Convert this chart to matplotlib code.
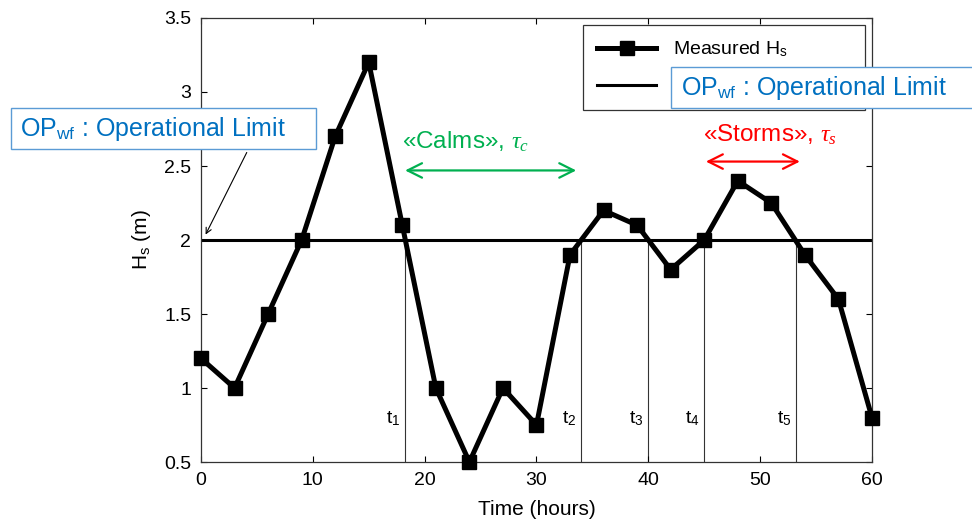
import numpy as np
import matplotlib.pyplot as plt
from matplotlib.patches import Rectangle

# measured significant wave height, every 3 hours
time_h = [0, 3, 6, 9, 12, 15, 18, 21, 24, 27, 30, 33, 36, 39, 42, 45, 48, 51, 54, 57, 60]
hs_m = [1.2, 1.0, 1.5, 2.0, 2.7, 3.2, 2.1, 1.0, 0.5, 1.0, 0.75, 1.9, 2.2, 2.1, 1.8, 2.0,
        2.4, 2.25, 1.9, 1.6, 0.8]
op_limit = 2.0

# crossing times of the limit
t_cross = [18.2, 34.0, 40.0, 45.0, 53.2]
t_names = ['t$_1$', 't$_2$', 't$_3$', 't$_4$', 't$_5$']

calm_span = (18.0, 33.8)
storm_span = (44.9, 53.8)

xticks = [0, 10, 20, 30, 40, 50, 60]
yticks = [0.5, 1, 1.5, 2, 2.5, 3, 3.5]

blue = '#0070C0'
box_edge = '#5B9BD5'
green = '#00B050'

plt.rcParams['font.family'] = ['Liberation Sans', 'DejaVu Sans']
plt.rcParams['mathtext.fontset'] = 'custom'
plt.rcParams['mathtext.rm'] = 'Liberation Sans'
plt.rcParams['mathtext.it'] = 'Liberation Serif:italic'

fig = plt.figure(figsize=(9.72, 5.23), dpi=100)
ax = fig.add_axes([0.2068, 0.1166, 0.6903, 0.849])

l1, = ax.plot(time_h, hs_m, color='black', lw=3.6, marker='s', ms=10.5,
              solid_joinstyle='round', clip_on=False, zorder=3,
              label='Measured H$_\\mathregular{s}$')
l2 = ax.axhline(op_limit, color='black', lw=2.2, label=' ')

for t, name in zip(t_cross, t_names):
    ax.plot([t, t], [0.5, op_limit], color='#333333', lw=0.8, zorder=1)
    ax.text(t - 0.4, 0.79, name, ha='right', va='center', fontsize=14)

ax.set_xlim(0, 60)
ax.set_ylim(0.5, 3.5)
ax.set_xticks(xticks)
ax.set_yticks(yticks)
ax.set_yticklabels(['0.5', '1', '1.5', '2', '2.5', '3', '3.5'])
ax.tick_params(direction='in', top=True, right=True, labelsize=14, length=4, pad=7)
for s in ax.spines.values():
    s.set_linewidth(0.9)
    s.set_color('#333333')
ax.set_xlabel('Time (hours)', fontsize=15, labelpad=8)
ax.set_ylabel('H$_\\mathregular{s}$ (m)', fontsize=15, labelpad=8)

leg = ax.legend(handles=[l1, l2], loc='upper left', mode='expand',
                bbox_to_anchor=(0.569, 0.5, 0.4203, 0.484), borderaxespad=0,
                fontsize=14, handlelength=3.0, handletextpad=0.9, fancybox=False,
                edgecolor='#333333', framealpha=1, borderpad=0.75, labelspacing=0.95)
leg.get_frame().set_linewidth(0.9)

# calms / storms arrows
ax.annotate('', xy=(calm_span[1], 2.47), xytext=(calm_span[0], 2.47),
            arrowprops=dict(arrowstyle='<->', color=green, lw=1.6, mutation_scale=26))
ax.text(18.0, 2.66, '«Calms», $\\tau_c$', color=green, fontsize=17.5, va='center')
ax.annotate('', xy=(storm_span[1], 2.53), xytext=(storm_span[0], 2.53),
            arrowprops=dict(arrowstyle='<->', color='red', lw=1.6, mutation_scale=26))
ax.text(44.9, 2.71, '«Storms», $\\tau_s$', color='red', fontsize=17.5, va='center')

# callout boxes (pixel extents from the slide)
for x0, y0, w, h in [(11, 108, 305, 41), (671, 67, 320, 41)]:
    fig.patches.append(Rectangle((x0 / 972, 1 - (y0 + h) / 523), w / 972, h / 523,
                                 transform=fig.transFigure, fc='white', ec=box_edge,
                                 lw=1.0, zorder=10))
fig.text(20 / 972, 1 - 129 / 523, 'OP$_\\mathregular{wf}$ : Operational Limit', color=blue,
         fontsize=18, va='center', zorder=11)
fig.text(681 / 972, 1 - 88 / 523, 'OP$_\\mathregular{wf}$ : Operational Limit', color=blue,
         fontsize=18, va='center', zorder=11)
ax.annotate('', xy=(0.3, 2.02), xycoords='data',
            xytext=(248 / 972, 1 - 150 / 523), textcoords='figure fraction',
            arrowprops=dict(arrowstyle='->', color='black', lw=0.8))

fig.savefig('out.png', dpi=100)
